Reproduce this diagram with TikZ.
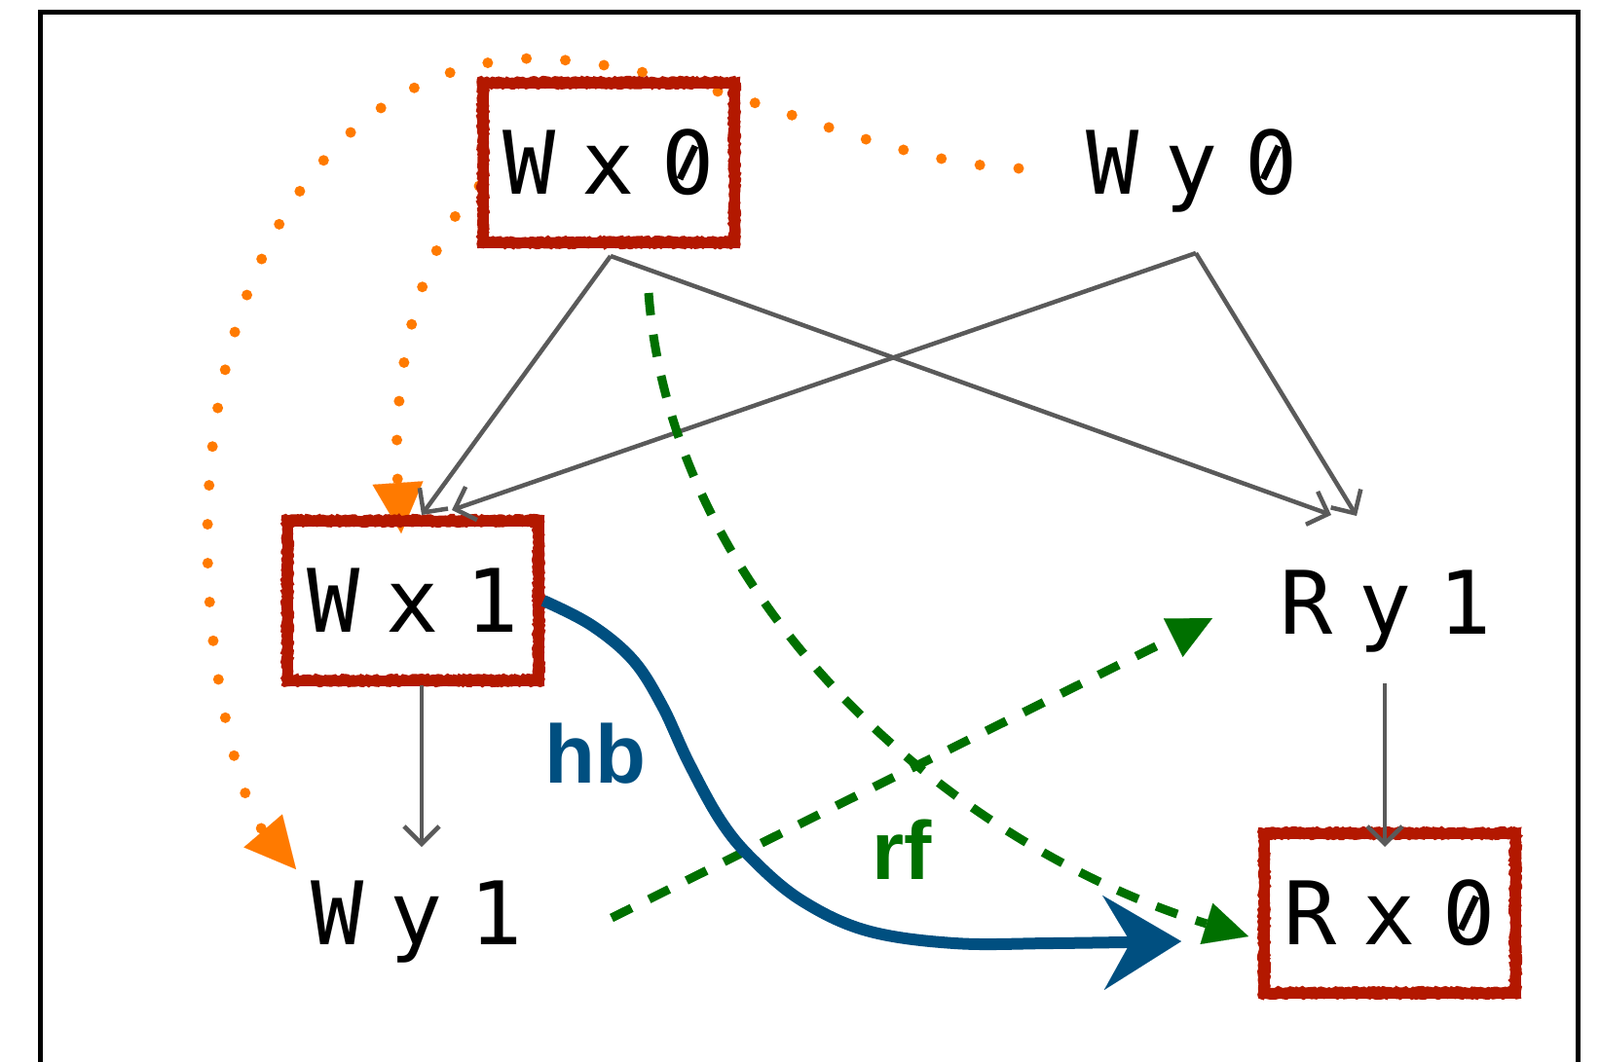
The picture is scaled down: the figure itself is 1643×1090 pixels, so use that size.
\documentclass[tikz,border=0pt]{standalone}
\usepackage{fontspec}
\newfontfamily\monof{DejaVu Sans Mono}
\newfontfamily\labf{Liberation Sans}
\usetikzlibrary{arrows.meta,decorations.pathmorphing}
\pgfdeclarelayer{bg}
\pgfsetlayers{bg,main}
\definecolor{boxred}{RGB}{179,24,0}
\definecolor{dotorange}{RGB}{255,122,0}
\definecolor{rfgreen}{RGB}{0,112,0}
\definecolor{hbblue}{RGB}{0,79,128}
\definecolor{pogray}{RGB}{90,90,90}
\newcommand{\gp}{\hspace{27pt}}
\begin{document}
\begin{tikzpicture}[x=1pt,y=-1pt,
  ev/.style={minimum width=258pt,minimum height=164pt,inner sep=0pt,outer sep=0pt,
    text height=65.6pt,text depth=0pt,font={\monof\fontsize{90}{90}\selectfont}},
  boxed/.style={draw=boxred,line width=11pt},
  rough/.style={draw=boxred,line width=3pt,decorate,
    decoration={random steps,segment length=2.5pt,amplitude=1.2pt}},
  po/.style={draw=pogray,line width=4.5pt,-{Straight Barb[length=18pt,width=36pt]}},
  ord/.style={draw=dotorange,line width=11pt,line cap=round,dash pattern=on 0pt off 40pt,
    -{Triangle[length=52pt,width=52pt,line width=0.1pt]}},
  gd/.style={draw=rfgreen,line width=9pt,dash pattern=on 23pt off 20pt,
    -{Triangle[length=45pt,width=44pt,line width=0.1pt]}},
  hbs/.style={draw=hbblue,line width=12pt,line join=round,
    -{Stealth[length=80pt,width=97pt,inset=28pt,line width=0.1pt]}},
  zslash/.style={line width=7pt},
  lab/.style={font={\labf\bfseries\fontsize{85}{85}\selectfont},anchor=base}]
\useasboundingbox (0,0) rectangle (1643,1090);
\clip (0,0) rectangle (1643,1090);
\draw[line width=5pt] (41.5,12.5) rectangle (1620.5,1110);

% events
\node[ev,boxed] (Wx0) at (625,167) {W\gp x\gp 0};
\node[ev] (Wy0) at (1224,167) {W\gp y\gp 0};
\node[ev,boxed] (Wx1) at (424,617) {W\gp x\gp 1};
\node[ev] (Ry1) at (1423,619) {R\gp y\gp 1};
\node[ev] (Wy1) at (428,938) {W\gp y\gp 1};
\node[ev,boxed] (Rx0) at (1427,938) {R\gp x\gp 0};

% rough edges of the red boxes
\foreach \n in {Wx0,Wx1,Rx0}{
  \draw[rough] ([shift={(-4.5,-4.5)}]\n.north west) rectangle ([shift={(4.5,4.5)}]\n.south east);
  \draw[rough] ([shift={(4.5,4.5)}]\n.north west) rectangle ([shift={(-4.5,-4.5)}]\n.south east);
}

% slashed zeros
\foreach \n in {Wx0,Wy0,Rx0}{
  \fill[white] ([xshift=81.2pt]\n.center) circle (8);
  \draw[zslash] ([shift={(73,17)}]\n.center) -- ([shift={(89,-17)}]\n.center);
}

% orange dotted (behind boxes)
\begin{pgfonlayer}{bg}
\draw[ord] ([shift={(-49,6)}]Wy0.west) .. controls (880,165) and (760,75) .. (560,60)
  .. controls (360,55) and (213,250) .. (213,555)
  .. controls (213,700) and (250,830) .. ([shift={(5,-45)}]Wy1.west);
\draw[ord] ([shift={(-4,24)}]Wx0.west) .. controls (425,260) and (402,400) .. ([shift={(-12,13)}]Wx1.north);
\end{pgfonlayer}

% program order
\draw[po] ([shift={(2,14)}]Wx0.south) -- ([shift={(9,-6)}]Wx1.north);
\draw[po] ([shift={(2,14)}]Wx0.south) -- ([shift={(-56,-8)}]Ry1.north);
\draw[po] ([shift={(4,11)}]Wy0.south) -- ([shift={(40,-11)}]Wx1.north);
\draw[po] ([shift={(4,11)}]Wy0.south) -- ([shift={(-30,-7)}]Ry1.north);
\draw[po] ([shift={(9,5)}]Wx1.south) -- ([shift={(5,14)}]Wy1.north);
\draw[po] ([shift={(-1,1)}]Ry1.south) -- ([shift={(-5,14)}]Rx0.north);

% rf
\draw[gd] ([shift={(41,52)}]Wx0.south) .. controls (690,620) and (980,870) .. ([shift={(-16,24)}]Rx0.west);
\draw[gd] ([shift={(71,5)}]Wy1.east) -- ([shift={(-49,16)}]Ry1.west);

% hb
\coordinate (hbS) at ([shift={(5,0)}]Wx1.east);
\coordinate (hbE) at ([shift={(-85,29)}]Rx0.west);
\draw[hbs] plot[smooth,tension=0.6] coordinates {(hbS) (607,642) (650,678) (680,725) (707,783) (740,843) (773,883) (823,925) (890,956) (980,969) (1080,969) (hbE)};

\node[lab,text=hbblue] (hb) at (611,804) {hb};
\node[lab,text=rfgreen] (rf) at (926,903) {rf};
\end{tikzpicture}
\end{document}
